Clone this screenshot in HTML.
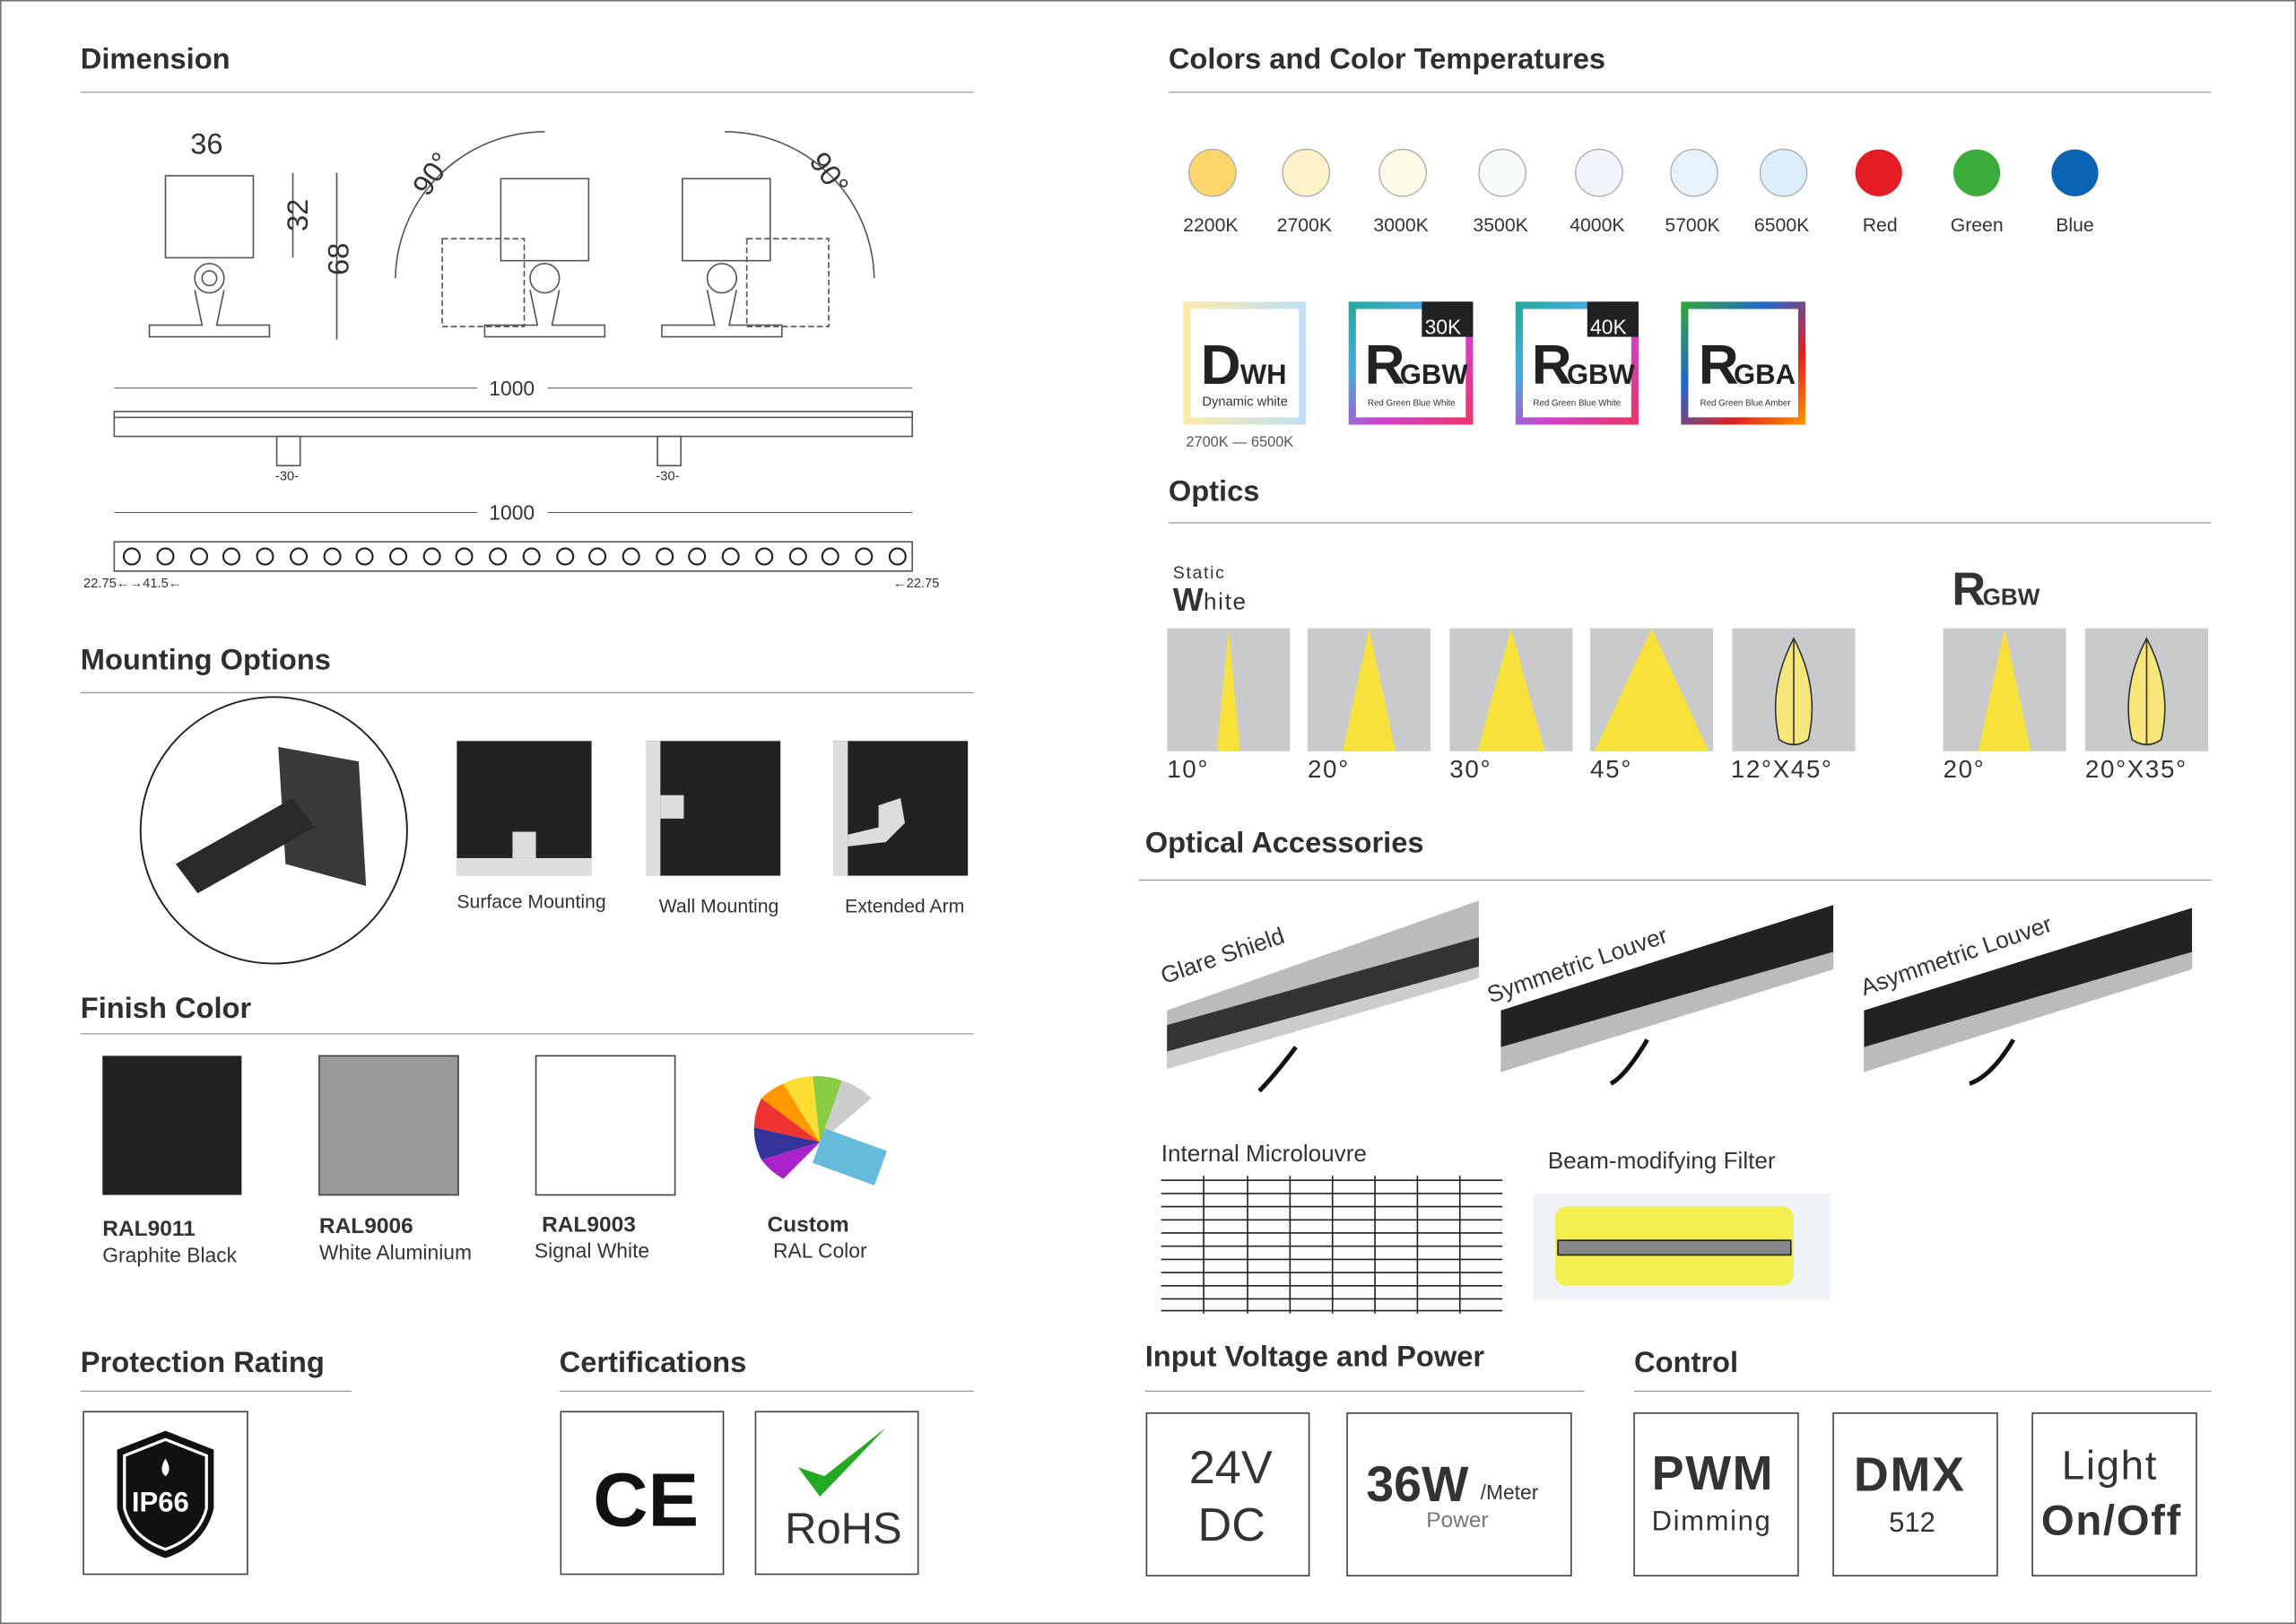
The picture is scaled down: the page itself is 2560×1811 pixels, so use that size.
<!DOCTYPE html>
<html><head><meta charset="utf-8"><style>
html,body{margin:0;padding:0;background:#fff;width:2560px;height:1811px;overflow:hidden}
svg{display:block}
text{font-family:"Liberation Sans","DejaVu Sans",sans-serif;fill:#333}
.h{font-size:20px;font-weight:bold;fill:#2f2f2f}
.s{font-size:13px;fill:#333}
.d{font-size:9px;fill:#333}
</style></head><body>
<svg width="2560" height="1811" viewBox="0 0 1568 1109" preserveAspectRatio="none" xmlns="http://www.w3.org/2000/svg">
<rect x="0.5" y="0.5" width="1567" height="1108" fill="#fff" stroke="#777" stroke-width="1"/>
<g stroke="#999" stroke-width="0.8">
<line x1="55" y1="63" x2="665" y2="63"/><line x1="55" y1="473" x2="665" y2="473"/>
<line x1="55" y1="706" x2="665" y2="706"/><line x1="55" y1="950" x2="240" y2="950"/>
<line x1="382" y1="950" x2="665" y2="950"/><line x1="798" y1="63" x2="1510" y2="63"/>
<line x1="798" y1="357" x2="1510" y2="357"/><line x1="778" y1="601" x2="1510" y2="601"/>
<line x1="782" y1="950" x2="1082" y2="950"/><line x1="1116" y1="950" x2="1510" y2="950"/>
</g>
<text class="h" x="55" y="47">Dimension</text>
<text class="h" x="55" y="457">Mounting Options</text>
<text class="h" x="55" y="695">Finish Color</text>
<text class="h" x="55" y="937">Protection Rating</text>
<text class="h" x="382" y="937">Certifications</text>
<text class="h" x="798" y="47">Colors and Color Temperatures</text>
<text class="h" x="798" y="342">Optics</text>
<text class="h" x="782" y="582">Optical Accessories</text>
<text class="h" x="782" y="933">Input Voltage and Power</text>
<text class="h" x="1116" y="937">Control</text>

<!-- Dimension drawings -->
<g fill="none" stroke="#555" stroke-width="1">
<rect x="113" y="120" width="60" height="56"/>
<circle cx="143" cy="190" r="10"/><circle cx="143" cy="190" r="5"/>
<path d="M133 198 L138 222 L102 222 L102 230 L184 230 L184 222 L148 222 L153 198"/>
<rect x="342" y="122" width="60" height="56"/><rect x="302" y="163" width="56" height="60" stroke-dasharray="4 2"/>
<circle cx="372" cy="190" r="10"/><path d="M362 198 L367 222 L331 222 L331 230 L413 230 L413 222 L377 222 L382 198"/>
<path d="M270 190 A102 102 0 0 1 372 90"/>
<rect x="466" y="122" width="60" height="56"/><rect x="510" y="163" width="56" height="60" stroke-dasharray="4 2"/>
<circle cx="493" cy="190" r="10"/><path d="M483 198 L488 222 L452 222 L452 230 L534 230 L534 222 L498 222 L503 198"/>
<path d="M495 90 A102 102 0 0 1 597 190"/>
<line x1="230" y1="118" x2="230" y2="232"/><line x1="200" y1="118" x2="200" y2="176"/>
<rect x="78" y="281" width="545" height="17"/><line x1="78" y1="285" x2="623" y2="285"/>
<rect x="189" y="298" width="16" height="20"/><rect x="449" y="298" width="16" height="20"/>
<rect x="78" y="370" width="545" height="20"/>
<line x1="78" y1="265" x2="623" y2="265" stroke-width="0.6"/><line x1="78" y1="350" x2="623" y2="350" stroke-width="0.6"/>
<g stroke-width="1.3" stroke="#222">
<circle cx="90" cy="380" r="5.5"/><circle cx="113" cy="380" r="5.5"/><circle cx="136" cy="380" r="5.5"/><circle cx="158" cy="380" r="5.5"/><circle cx="181" cy="380" r="5.5"/><circle cx="204" cy="380" r="5.5"/><circle cx="227" cy="380" r="5.5"/><circle cx="249" cy="380" r="5.5"/><circle cx="272" cy="380" r="5.5"/><circle cx="295" cy="380" r="5.5"/><circle cx="317" cy="380" r="5.5"/><circle cx="340" cy="380" r="5.5"/><circle cx="363" cy="380" r="5.5"/><circle cx="386" cy="380" r="5.5"/><circle cx="408" cy="380" r="5.5"/><circle cx="431" cy="380" r="5.5"/><circle cx="454" cy="380" r="5.5"/><circle cx="476" cy="380" r="5.5"/><circle cx="499" cy="380" r="5.5"/><circle cx="522" cy="380" r="5.5"/><circle cx="545" cy="380" r="5.5"/><circle cx="567" cy="380" r="5.5"/><circle cx="590" cy="380" r="5.5"/><circle cx="613" cy="380" r="5.5"/>
</g></g>
<rect x="326" y="257" width="48" height="16" fill="#fff"/><text x="334" y="270" font-size="14">1000</text>
<rect x="326" y="342" width="48" height="16" fill="#fff"/><text x="334" y="355" font-size="14">1000</text>
<text x="130" y="105" font-size="20">36</text>
<text x="0" y="0" font-size="20" transform="translate(210,158) rotate(-90)">32</text>
<text x="0" y="0" font-size="20" transform="translate(238,188) rotate(-90)">68</text>
<text x="0" y="0" font-size="20" transform="translate(292,135) rotate(-55)">90°</text>
<text x="0" y="0" font-size="20" transform="translate(552,110) rotate(55)">90°</text>
<text class="d" x="188" y="328">-30-</text><text class="d" x="448" y="328">-30-</text>
<text class="d" x="57" y="401">22.75←→41.5←</text><text class="d" x="610" y="401">←22.75</text>

<!-- Mounting -->
<circle cx="187" cy="567" r="91" fill="#fff" stroke="#222" stroke-width="1.2"/>
<path d="M190 510 L245 520 L250 605 L195 590 Z" fill="#3a3a3a"/>
<path d="M120 590 L200 545 L215 565 L135 610 Z" fill="#2a2a2a"/>
<rect x="312" y="506" width="92" height="92" fill="#222"/><rect x="312" y="586" width="92" height="12" fill="#ddd"/><rect x="350" y="568" width="16" height="18" fill="#ddd"/>
<rect x="441" y="506" width="92" height="92" fill="#222"/><rect x="441" y="506" width="10" height="92" fill="#ddd"/><rect x="451" y="543" width="16" height="16" fill="#ddd"/>
<rect x="569" y="506" width="92" height="92" fill="#222"/><rect x="569" y="506" width="10" height="92" fill="#ddd"/><path d="M579 570 L600 565 L600 550 L615 545 L618 562 L605 575 L579 578Z" fill="#ddd"/>
<text class="s" x="312" y="620" font-size="12">Surface Mounting</text>
<text class="s" x="450" y="623" font-size="12">Wall Mounting</text>
<text class="s" x="577" y="623" font-size="12">Extended Arm</text>

<!-- Finish -->
<rect x="70" y="721" width="95" height="95" fill="#222"/>
<rect x="218" y="721" width="95" height="95" fill="#9a9a9a" stroke="#444"/>
<rect x="366" y="721" width="95" height="95" fill="#fff" stroke="#444"/>
<g transform="translate(560,780)">
<path d="M0 0 L-45 -10 A46 46 0 0 1 -40 -30Z" fill="#e33"/><path d="M0 0 L-40 -30 A46 46 0 0 1 -25 -40Z" fill="#f90"/><path d="M0 0 L-25 -40 A46 46 0 0 1 -5 -45Z" fill="#fd3"/><path d="M0 0 L-5 -45 A46 46 0 0 1 15 -42Z" fill="#8c4"/><path d="M0 0 L15 -42 A46 46 0 0 1 35 -30Z" fill="#ccc"/><path d="M0 0 L-45 -10 A46 46 0 0 0 -40 12Z" fill="#339"/><path d="M0 0 L-40 12 A46 46 0 0 0 -25 25Z" fill="#a2c"/><rect x="0" y="-10" width="45" height="25" fill="#6bd" transform="rotate(20)"/>
</g>
<text x="70" y="844" font-size="15" font-weight="bold">RAL9011</text><text x="70" y="862" font-size="14">Graphite Black</text>
<text x="218" y="842" font-size="15" font-weight="bold">RAL9006</text><text x="218" y="860" font-size="14">White Aluminium</text>
<text x="370" y="841" font-size="15" font-weight="bold">RAL9003</text><text x="365" y="859" font-size="14">Signal White</text>
<text x="524" y="841" font-size="15" font-weight="bold">Custom</text><text x="528" y="859" font-size="14">RAL Color</text>

<!-- Protection / certs -->
<g fill="#fff" stroke="#444" stroke-width="1">
<rect x="57" y="964" width="112" height="111"/><rect x="383" y="964" width="111" height="111"/><rect x="516" y="964" width="111" height="111"/>
<rect x="783" y="965" width="111" height="111"/><rect x="920" y="965" width="153" height="111"/>
<rect x="1116" y="965" width="112" height="111"/><rect x="1252" y="965" width="112" height="111"/><rect x="1388" y="965" width="112" height="111"/>
</g>
<path d="M113 977 L146 990 L146 1030 Q140 1055 113 1064 Q86 1055 80 1030 L80 990 Z" fill="#111"/>
<path d="M113 983 L141 994 L141 1030 Q136 1050 113 1058 Q90 1050 85 1030 L85 994 Z" fill="none" stroke="#fff" stroke-width="2"/>
<text x="90" y="1032" font-size="19" font-weight="bold" fill="#fff" style="fill:#fff">IP66</text>
<path d="M113 996 Q108 1004 113 1008 Q118 1004 113 996Z" fill="#fff"/>
<text x="405" y="1042" font-size="52" font-weight="bold" fill="#111" style="fill:#111">CE</text>
<path d="M545 1002 L560 1022 L605 975 L563 1008 Z" fill="#2a2"/>
<text x="536" y="1054" font-size="30">RoHS</text>
<text x="812" y="1013" font-size="32">24V</text><text x="818" y="1052" font-size="32">DC</text>
<text x="933" y="1025" font-size="34" font-weight="bold">36W</text><text x="1011" y="1024" font-size="14">/Meter</text><text x="974" y="1043" font-size="15" style="fill:#777">Power</text>
<text x="1128" y="1017" font-size="33" font-weight="bold" letter-spacing="1">PWM</text><text x="1128" y="1045" font-size="19" letter-spacing="1">Dimming</text>
<text x="1266" y="1018" font-size="33" font-weight="bold" letter-spacing="1">DMX</text><text x="1290" y="1046" font-size="19">512</text>
<text x="1408" y="1010" font-size="28" letter-spacing="1">Light</text><text x="1394" y="1048" font-size="29" font-weight="bold" letter-spacing="1">On/Off</text>

<!-- Colors -->
<g stroke="#aaa" stroke-width="0.8">
<circle cx="828" cy="118" r="16" fill="#fcd66a"/><circle cx="892" cy="118" r="16" fill="#fdf1c8"/><circle cx="958" cy="118" r="16" fill="#fdfbe8"/><circle cx="1026" cy="118" r="16" fill="#f8fbfb"/><circle cx="1092" cy="118" r="16" fill="#f0f6fc"/><circle cx="1157" cy="118" r="16" fill="#e6f2fc"/><circle cx="1218" cy="118" r="16" fill="#dcedfb"/>
<circle cx="1283" cy="118" r="16" fill="#e31c25" stroke="none"/><circle cx="1350" cy="118" r="16" fill="#3aad3a" stroke="none"/><circle cx="1417" cy="118" r="16" fill="#0b63b4" stroke="none"/>
</g>
<g font-size="13"><text x="808" y="158">2200K</text><text x="872" y="158">2700K</text><text x="938" y="158">3000K</text><text x="1006" y="158">3500K</text><text x="1072" y="158">4000K</text><text x="1137" y="158">5700K</text><text x="1198" y="158">6500K</text><text x="1272" y="158">Red</text><text x="1332" y="158">Green</text><text x="1404" y="158">Blue</text></g>
<defs>
<linearGradient id="rg" x1="0" y1="0" x2="1" y2="1"><stop offset="0" stop-color="#2a9"/><stop offset=".3" stop-color="#4ad"/><stop offset=".6" stop-color="#c4c"/><stop offset="1" stop-color="#e36"/></linearGradient>
<linearGradient id="ra" x1="0" y1="0" x2="1" y2="1"><stop offset="0" stop-color="#3a3"/><stop offset=".35" stop-color="#26c"/><stop offset=".7" stop-color="#d22"/><stop offset="1" stop-color="#f90"/></linearGradient>
<linearGradient id="dw" x1="0" y1="0" x2="1" y2="0"><stop offset="0" stop-color="#fde9a8"/><stop offset="1" stop-color="#bde0f8"/></linearGradient>
</defs>
<rect x="808" y="206" width="84" height="84" fill="url(#dw)"/><rect x="813" y="211" width="74" height="74" fill="#fff"/>
<rect x="921" y="206" width="85" height="84" fill="url(#rg)"/><rect x="926" y="211" width="75" height="74" fill="#fff"/><rect x="971" y="206" width="35" height="24" fill="#222"/>
<rect x="1035" y="206" width="84" height="84" fill="url(#rg)"/><rect x="1040" y="211" width="74" height="74" fill="#fff"/><rect x="1084" y="206" width="35" height="24" fill="#222"/>
<rect x="1148" y="206" width="85" height="84" fill="url(#ra)"/><rect x="1153" y="211" width="75" height="74" fill="#fff"/>
<text x="973" y="228" font-size="14" style="fill:#fff">30K</text><text x="1086" y="228" font-size="14" style="fill:#fff">40K</text>
<text x="820" y="262" font-size="38" font-weight="bold" style="fill:#222">D</text><text x="847" y="262" font-size="19" font-weight="bold" style="fill:#222">WH</text>
<text x="821" y="277" font-size="9">Dynamic white</text><text x="810" y="305" font-size="10" style="fill:#555">2700K — 6500K</text>
<text x="932" y="262" font-size="38" font-weight="bold" style="fill:#222">R</text><text x="956" y="262" font-size="19" font-weight="bold" style="fill:#222">GBW</text><text x="934" y="277" font-size="6">Red Green Blue White</text>
<text x="1046" y="262" font-size="38" font-weight="bold" style="fill:#222">R</text><text x="1070" y="262" font-size="19" font-weight="bold" style="fill:#222">GBW</text><text x="1047" y="277" font-size="6">Red Green Blue White</text>
<text x="1160" y="262" font-size="38" font-weight="bold" style="fill:#222">R</text><text x="1184" y="262" font-size="19" font-weight="bold" style="fill:#222">GBA</text><text x="1161" y="277" font-size="6">Red Green Blue Amber</text>

<!-- Optics -->
<text x="801" y="395" font-size="12" letter-spacing="1">Static</text>
<text x="801" y="417" font-size="22" font-weight="bold">W</text><text x="822" y="416" font-size="16" letter-spacing="1">hite</text>
<text x="1333" y="413" font-size="32" font-weight="bold">R</text><text x="1354" y="413" font-size="16" font-weight="bold">GBW</text>
<g fill="#c9cacc"><rect x="797" y="429" width="84" height="84"/><rect x="893" y="429" width="84" height="84"/><rect x="990" y="429" width="84" height="84"/><rect x="1086" y="429" width="84" height="84"/><rect x="1183" y="429" width="84" height="84"/><rect x="1327" y="429" width="84" height="84"/><rect x="1424" y="429" width="84" height="84"/></g>
<g fill="#f7e13a">
<path d="M839 429 L831 513 L847 513Z"/><path d="M935 429 L917 513 L953 513Z"/><path d="M1032 429 L1009 513 L1055 513Z"/><path d="M1128 429 L1089 513 L1167 513Z"/><path d="M1369 429 L1351 513 L1387 513Z"/>
</g>
<g fill="#f7e67a" stroke="#333" stroke-width="1">
<path d="M1225 436 Q1243 470 1235 505 Q1225 512 1215 505 Q1207 470 1225 436Z"/><path d="M1225 436 L1225 508"/>
<path d="M1466 436 Q1484 470 1476 505 Q1466 512 1456 505 Q1448 470 1466 436Z"/><path d="M1466 436 L1466 508"/>
</g>
<g font-size="17" letter-spacing="1"><text x="797" y="531">10°</text><text x="893" y="531">20°</text><text x="990" y="531">30°</text><text x="1086" y="531">45°</text><text x="1182" y="531">12°X45°</text><text x="1327" y="531">20°</text><text x="1424" y="531">20°X35°</text></g>

<!-- Accessories -->
<g>
<path d="M797 690 L1010 615 L1010 655 L797 730Z" fill="#bbb"/><path d="M797 700 L1010 640 L1010 660 L797 720Z" fill="#333"/><path d="M797 718 L1010 660 L1010 668 L797 730Z" fill="#ccc"/>
<path d="M1025 690 L1252 618 L1252 660 L1025 732Z" fill="#222"/><path d="M1025 715 L1252 650 L1252 662 L1025 732Z" fill="#bbb"/>
<path d="M1273 690 L1497 620 L1497 660 L1273 732Z" fill="#222"/><path d="M1273 715 L1497 650 L1497 662 L1273 732Z" fill="#bbb"/>
<path d="M885 715 Q870 735 860 745" stroke="#111" stroke-width="3" fill="none"/><path d="M1125 710 Q1110 735 1100 740" stroke="#111" stroke-width="3" fill="none"/><path d="M1375 710 Q1360 735 1345 740" stroke="#111" stroke-width="3" fill="none"/>
</g>
<text x="0" y="0" font-size="16" transform="translate(795,672) rotate(-19)">Glare Shield</text>
<text x="0" y="0" font-size="16" transform="translate(1018,685) rotate(-19)">Symmetric Louver</text>
<text x="0" y="0" font-size="16" transform="translate(1273,680) rotate(-19)">Asymmetric Louver</text>
<text x="793" y="793" font-size="16">Internal Microlouvre</text>
<text x="1057" y="798" font-size="16">Beam-modifying Filter</text>
<g stroke="#222" stroke-width="1">
<line x1="793" y1="806" x2="1026" y2="806"/><line x1="793" y1="815" x2="1026" y2="815"/><line x1="793" y1="824" x2="1026" y2="824"/><line x1="793" y1="833" x2="1026" y2="833"/><line x1="793" y1="842" x2="1026" y2="842"/><line x1="793" y1="851" x2="1026" y2="851"/><line x1="793" y1="860" x2="1026" y2="860"/><line x1="793" y1="869" x2="1026" y2="869"/><line x1="793" y1="878" x2="1026" y2="878"/><line x1="793" y1="887" x2="1026" y2="887"/><line x1="793" y1="895" x2="1026" y2="895"/>
<line x1="822" y1="803" x2="822" y2="897"/><line x1="852" y1="803" x2="852" y2="897"/><line x1="881" y1="803" x2="881" y2="897"/><line x1="910" y1="803" x2="910" y2="897"/><line x1="939" y1="803" x2="939" y2="897"/><line x1="968" y1="803" x2="968" y2="897"/><line x1="997" y1="803" x2="997" y2="897"/>
</g>
<rect x="1047" y="815" width="203" height="73" fill="#eef1f6"/>
<rect x="1062" y="824" width="163" height="54" fill="#f4ef50" rx="8"/>
<rect x="1064" y="847" width="159" height="10" fill="#888" stroke="#222"/>
</svg>
</body></html>
